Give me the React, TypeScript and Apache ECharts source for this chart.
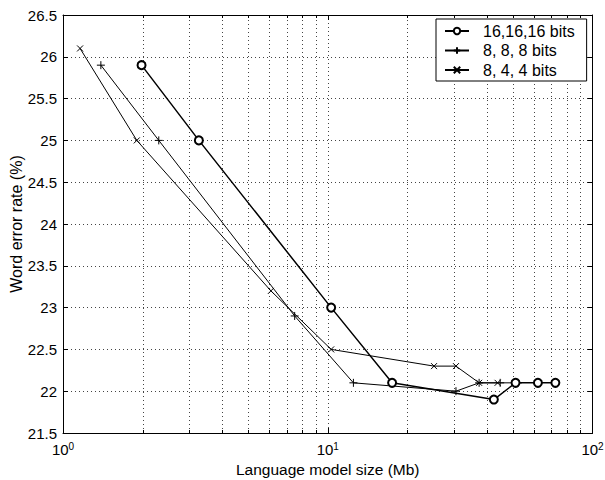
import React, { useEffect, useRef } from "react";
import * as echarts from "echarts";

const seriesNames = ["16,16,16 bits", "8, 8, 8 bits", "8, 4, 4 bits"];

const size16 = [1.98, 3.26, 10.3, 17.5, 42.4, 51.2, 62.2, 72.4];
const wer16 = [25.9, 25.0, 23.0, 22.1, 21.9, 22.1, 22.1, 22.1];

const size8 = [1.39, 2.3, 7.5, 12.5, 30.5, 37.3, 44.8, 52.3];
const wer8 = [25.9, 25.0, 22.9, 22.1, 22.0, 22.1, 22.1, 22.1];

const size844 = [1.16, 1.9, 6.1, 10.3, 25.2, 30.5, 37.3, 43.8];
const wer844 = [26.1, 25.0, 23.2, 22.5, 22.3, 22.3, 22.1, 22.1];

const xMin = 1;
const xMax = 100;
const yMin = 21.5;
const yMax = 26.5;
const yStep = 0.5;
const minorTicks = [2, 3, 4, 5, 6, 7, 8, 9, 20, 30, 40, 50, 60, 70, 80, 90];

const xTitle = "Language model size (Mb)";
const yTitle = "Word error rate (%)";

const FONT = "'Liberation Sans', Arial, Helvetica, sans-serif";

const zip = (xs: number[], ys: number[]) => xs.map((x, i) => [x, ys[i]]);

export default function App() {
  const ref = useRef<HTMLDivElement>(null);
  useEffect(() => {
    if (!ref.current) return;
    const chart = echarts.init(ref.current, undefined, { renderer: "svg" });
    const gridDot = { type: [1, 3] as any, color: "#444", width: 1 };
    const common = {
      axisLine: { show: true, onZero: false, lineStyle: { color: "#000", width: 1 } },
      axisTick: { show: true, inside: true, length: 5, lineStyle: { color: "#000" } },
    };
    const option: any = {
      animation: false,
      backgroundColor: "#fff",
      textStyle: { fontFamily: FONT, color: "#000" },
      grid: { left: 63, right: 12.5, top: 15, bottom: 47, containLabel: false, outerBoundsMode: "none" },
      legend: {
        orient: "vertical",
        left: 436,
        top: 19,
        padding: [4, 12, 3, 8],
        itemWidth: 24,
        itemHeight: 8,
        itemGap: 3.5,
        backgroundColor: "#fff",
        borderColor: "#000",
        borderWidth: 1,
        borderRadius: 0,
        textStyle: { fontSize: 16, color: "#000", fontFamily: FONT, padding: [0, 0, 0, 9], lineHeight: 16 },
        data: seriesNames,
      },
      xAxis: [
        {
          type: "log",
          logBase: 10,
          min: xMin,
          max: xMax,
          position: "bottom",
          name: xTitle,
          nameLocation: "middle",
          nameGap: 28,
          nameMoveOverlap: false,
          nameTextStyle: { fontSize: 15.5, color: "#000", fontFamily: FONT },
          ...common,
          axisLabel: {
            margin: 8,
            color: "#000",
            formatter: (v: number) => `{b|10}{s|${Math.round(Math.log10(v))}}`,
            rich: {
              b: { fontSize: 15, fontFamily: FONT, color: "#000", lineHeight: 16, verticalAlign: "bottom" },
              s: { fontSize: 10, fontFamily: FONT, color: "#000", lineHeight: 10, padding: [0, 0, 10, 0], verticalAlign: "top" },
            },
          },
          splitLine: { show: true, lineStyle: gridDot },
        },
        {
          type: "log",
          logBase: 10,
          min: xMin,
          max: xMax,
          position: "top",
          ...common,
          axisLabel: { show: false },
          splitLine: { show: false },
        },
      ],
      yAxis: [
        {
          type: "value",
          min: yMin,
          max: yMax,
          interval: yStep,
          position: "left",
          name: yTitle,
          nameLocation: "middle",
          nameGap: 39,
          nameMoveOverlap: false,
          nameTextStyle: { fontSize: 16, color: "#000", fontFamily: FONT },
          ...common,
          axisLabel: { margin: 6, fontSize: 15, color: "#000", fontFamily: FONT },
          splitLine: { show: true, lineStyle: gridDot },
        },
        {
          type: "value",
          min: yMin,
          max: yMax,
          interval: yStep,
          position: "right",
          ...common,
          axisLabel: { show: false },
          splitLine: { show: false },
        },
      ],
      series: [
        {
          type: "custom",
          silent: true,
          xAxisIndex: 0,
          yAxisIndex: 0,
          data: minorTicks.map((v) => [v, yMin]),
          encode: { x: 0, y: 1 },
          z: 1,
          renderItem: (params: any, api: any) => {
            const v = api.value(0);
            const b = api.coord([v, yMin]);
            const t = api.coord([v, yMax]);
            const x = Math.round(b[0]) + 0.5;
            return {
              type: "group",
              children: [
                {
                  type: "line",
                  shape: { x1: x, y1: b[1], x2: x, y2: t[1] },
                  style: { stroke: "#444", lineWidth: 1, lineDash: [1, 3] },
                },
                {
                  type: "line",
                  shape: { x1: x, y1: b[1], x2: x, y2: b[1] - 3 },
                  style: { stroke: "#000", lineWidth: 1 },
                },
                {
                  type: "line",
                  shape: { x1: x, y1: t[1], x2: x, y2: t[1] + 3 },
                  style: { stroke: "#000", lineWidth: 1 },
                },
              ],
            };
          },
        },
        {
          name: seriesNames[0],
          type: "line",
          data: zip(size16, wer16),
          symbol: "emptyCircle",
          symbolSize: 8,
          lineStyle: { color: "#000", width: 1.5 },
          itemStyle: { color: "#000", borderColor: "#000", borderWidth: 1.2 },
          z: 5,
        },
        {
          name: seriesNames[1],
          type: "line",
          data: zip(size8, wer8),
          symbol: "path://M5,0L5,10M0,5L10,5",
          symbolSize: 8,
          lineStyle: { color: "#000", width: 1 },
          itemStyle: { color: "#000", borderColor: "#000", borderWidth: 1 },
          z: 4,
        },
        {
          name: seriesNames[2],
          type: "line",
          data: zip(size844, wer844),
          symbol: "path://M0,0L10,10M0,10L10,0",
          symbolSize: 6,
          lineStyle: { color: "#000", width: 1 },
          itemStyle: { color: "#000", borderColor: "#000", borderWidth: 1 },
          z: 3,
        },
      ],
    };
    chart.setOption(option);
    return () => chart.dispose();
  }, []);
  return <div ref={ref} style={{ position: "fixed", left: 0, top: 0, width: 605, height: 480 }} />;
}
